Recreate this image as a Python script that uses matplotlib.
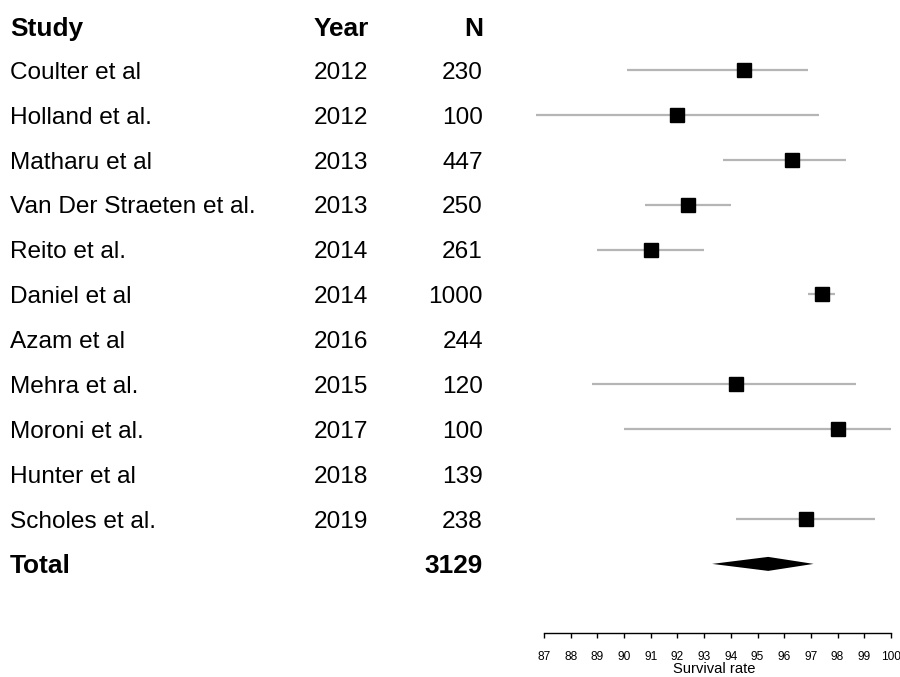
import numpy as np
import matplotlib
matplotlib.use("Agg")
import matplotlib.pyplot as plt
from matplotlib.transforms import blended_transform_factory, offset_copy

# Study table
studies = ["Coulter et al", "Holland et al.", "Matharu et al", "Van Der Straeten et al.",
           "Reito et al.", "Daniel et al", "Azam et al", "Mehra et al.", "Moroni et al.",
           "Hunter et al", "Scholes et al."]
years = ["2012", "2012", "2013", "2013", "2014", "2014", "2016", "2015", "2017", "2018", "2019"]
n_patients = [230, 100, 447, 250, 261, 1000, 244, 120, 100, 139, 238]

# Survival rate estimates (%) with confidence limits; nan where not reported
survival = [94.5, 92.0, 96.3, 92.4, 91.0, 97.4, np.nan, 94.2, 98.0, np.nan, 96.8]
ci_low = [90.1, 86.7, 93.7, 90.8, 89.0, 96.9, np.nan, 88.8, 90.0, np.nan, 94.2]
ci_high = [96.9, 97.3, 98.3, 94.0, 93.0, 97.9, np.nan, 98.7, 100.0, np.nan, 99.4]

# Pooled estimate
total_label = "Total"
total_n = 3129
total_est = 95.4
total_low = 93.3
total_high = 97.1

x_ticks = list(range(87, 101))
x_label = "Survival rate"

plt.rcParams["font.family"] = ["Liberation Sans", "DejaVu Sans"]

W, H = 900, 677
fig = plt.figure(figsize=(W / 100, H / 100), dpi=100)

row_px0, row_step = 70.0, 44.9
axis_px = 633.0
x_left_px, x_right_px = 544.0, 891.0

ax = fig.add_axes([x_left_px / W, 1 - axis_px / H, (x_right_px - x_left_px) / W, axis_px / H])
ax.set_xlim(x_ticks[0], x_ticks[-1])
ax.set_ylim((axis_px - row_px0) / row_step, -row_px0 / row_step)

rows = np.arange(len(studies))
total_row = len(studies)

# Confidence intervals and point estimates
ax.hlines(rows, ci_low, ci_high, color="#b5b5b5", lw=1.6, clip_on=False, zorder=2)
ax.plot(survival, rows, "s", ms=10.6, color="black", mec="black", clip_on=False, zorder=3)

# Pooled diamond
h = 7.0 / row_step
ax.fill([total_low, total_est, total_high, total_est],
        [total_row, total_row - h, total_row, total_row + h],
        color="black", lw=0, zorder=3)

# Axis styling
for side in ("top", "left", "right"):
    ax.spines[side].set_visible(False)
ax.spines["bottom"].set_linewidth(1.0)
ax.set_yticks([])
ax.set_xticks(x_ticks)
ax.tick_params(axis="x", direction="out", length=3.8, width=1.0, pad=9.0, labelsize=8.6)
fig.text((x_left_px + x_right_px) / 2 / W - 0.004, 1 - 673 / H, x_label,
         ha="center", va="baseline", fontsize=10.6)

# Table text
tr = blended_transform_factory(fig.transFigure, ax.transData)
fs_reg, fs_bold = 17.6, 18.9


def put(x_px, row, s, ha, bold=False):
    fs = fs_bold if bold else fs_reg
    t = offset_copy(tr, fig=fig, y=-0.716 * fs / 2, units="points")
    ax.text(x_px / W, row, s, transform=t, ha=ha, va="baseline", fontsize=fs,
            fontweight="bold" if bold else "normal", clip_on=False)


header_row = -0.96
put(10, header_row, "Study", "left", True)
put(341, header_row, "Year", "center", True)
put(483, header_row, "N", "right", True)

for r, (s, y, n) in enumerate(zip(studies, years, n_patients)):
    put(10, r, s, "left")
    put(341, r, y, "center")
    put(483, r, str(n), "right")

put(10, total_row, total_label, "left", True)
put(483, total_row, str(total_n), "right", True)

fig.savefig("out.png", dpi=100)
